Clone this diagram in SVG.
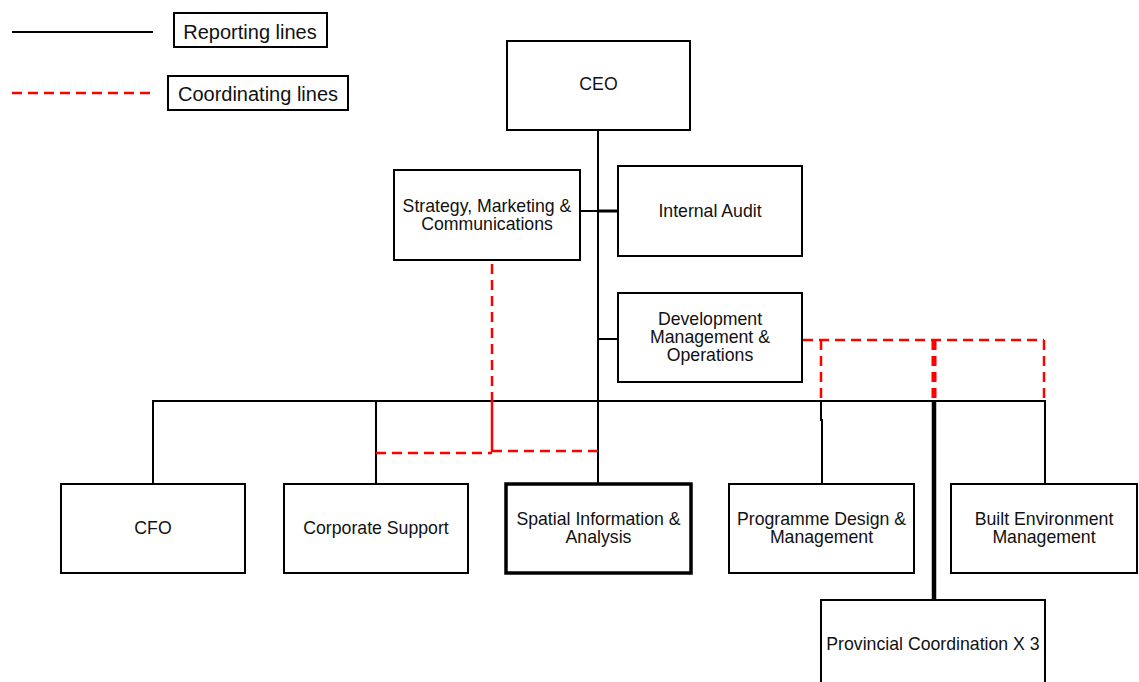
<svg xmlns="http://www.w3.org/2000/svg" width="1139" height="682" viewBox="0 0 1139 682">
  <style>
    .box { fill: #fff; stroke: #000; stroke-width: 2; }
    .box.bold { stroke-width: 3.5; }
    .lbl { font-family: "Liberation Sans", Arial, sans-serif; font-size: 17.7px; fill: #111; text-anchor: middle; }
    .lbl.big { font-size: 20px; }
    .rep { stroke: #000; stroke-width: 2; fill: none; }
    .rep.heavy { stroke-width: 4.5; }
    .coord { stroke: #ff0000; stroke-width: 2.5; fill: none; stroke-dasharray: 10 6; }
    .coord.heavy { stroke-width: 5; }
  </style>

  <!-- legend -->
  <g id="legend">
    <line class="rep" x1="12" y1="32" x2="153" y2="32"/>
    <rect class="box" x="174" y="13" width="153" height="34"/>
    <text class="lbl big" x="250" y="39">Reporting lines</text>
    <line class="coord" x1="12" y1="93" x2="153" y2="93"/>
    <rect class="box" x="168" y="76" width="180" height="34"/>
    <text class="lbl big" x="258" y="101">Coordinating lines</text>
  </g>

  <!-- connectors -->
  <g id="connectors">
    <!-- reporting lines -->
    <line class="rep" x1="598" y1="130" x2="598" y2="484"/>
    <line class="rep" x1="580" y1="211" x2="618" y2="211"/>
    <line class="rep" x1="598" y1="211" x2="618" y2="211" style="stroke-width:3"/>
    <line class="rep" x1="598" y1="339" x2="618" y2="339"/>
    <line class="rep" x1="152" y1="401" x2="1046" y2="401"/>
    <line class="rep" x1="153" y1="401" x2="153" y2="485"/>
    <line class="rep" x1="376" y1="401" x2="376" y2="485"/>
    <polyline class="rep" points="821,401 821,420 822,420 822,484"/>
    <line class="rep heavy" x1="934" y1="401" x2="934" y2="600"/>
    <line class="rep" x1="1045" y1="401" x2="1045" y2="484"/>

    <!-- coordinating lines -->
    <line class="coord" x1="492" y1="264" x2="492" y2="400"/>
    <line stroke="#ff0000" stroke-width="2.5" x1="492" y1="400" x2="492" y2="452"/>
    <line class="coord" x1="492" y1="451" x2="598" y2="451"/>
    <line class="coord" x1="376" y1="453" x2="492" y2="453"/>
    <line class="coord" x1="803" y1="340" x2="1044" y2="340"/>
    <line class="coord" x1="821" y1="340" x2="821" y2="401"/>
    <line class="coord heavy" x1="934" y1="340" x2="934" y2="401"/>
    <line class="coord" x1="1044" y1="340" x2="1044" y2="401"/>
  </g>

  <g id="ceo">
    <rect class="box" x="507" y="41" width="183" height="89"/>
    <text class="lbl" x="598.5" y="90">CEO</text>
  </g>

  <g id="strategy">
    <rect class="box" x="394" y="170" width="186" height="90"/>
    <text class="lbl" x="487" y="212">Strategy, Marketing &amp;</text>
    <text class="lbl" x="487" y="230">Communications</text>
  </g>

  <g id="internal-audit">
    <rect class="box" x="618" y="166" width="184" height="90"/>
    <text class="lbl" x="710" y="217">Internal Audit</text>
  </g>

  <g id="dev-mgmt">
    <rect class="box" x="618" y="293" width="184" height="89"/>
    <text class="lbl" x="710" y="325">Development</text>
    <text class="lbl" x="710" y="343">Management &amp;</text>
    <text class="lbl" x="710" y="361">Operations</text>
  </g>

  <g id="cfo">
    <rect class="box" x="61" y="484" width="184" height="89"/>
    <text class="lbl" x="153" y="534">CFO</text>
  </g>

  <g id="corporate-support">
    <rect class="box" x="284" y="484" width="184" height="89"/>
    <text class="lbl" x="376" y="534">Corporate Support</text>
  </g>

  <g id="spatial">
    <rect class="box bold" x="506" y="484" width="185" height="89"/>
    <text class="lbl" x="598.5" y="525">Spatial Information &amp;</text>
    <text class="lbl" x="598.5" y="543">Analysis</text>
  </g>

  <g id="programme">
    <rect class="box" x="729" y="484" width="185" height="89"/>
    <text class="lbl" x="821.5" y="525">Programme Design &amp;</text>
    <text class="lbl" x="821.5" y="543">Management</text>
  </g>

  <g id="built-environment">
    <rect class="box" x="951" y="484" width="186" height="89"/>
    <text class="lbl" x="1044" y="525">Built Environment</text>
    <text class="lbl" x="1044" y="543">Management</text>
  </g>

  <g id="provincial">
    <rect class="box" x="821" y="600" width="224" height="100"/>
    <text class="lbl" x="933" y="650">Provincial Coordination X 3</text>
  </g>
</svg>
